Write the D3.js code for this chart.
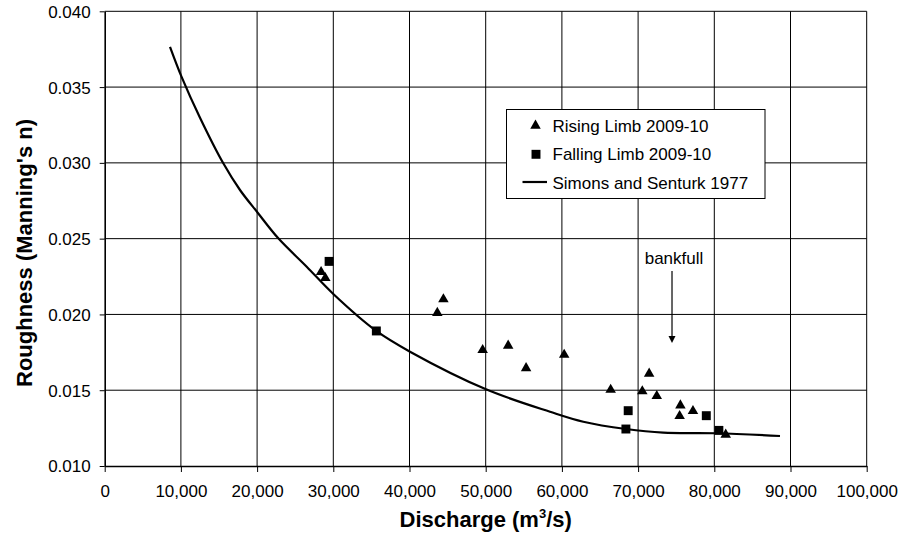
<!DOCTYPE html>
<html>
<head>
<meta charset="utf-8">
<script src="https://cdn.jsdelivr.net/npm/d3@7"></script>
<style>
  html, body { margin: 0; padding: 0; background: #fff; }
  svg { display: block; font-family: "Liberation Sans", Arial, sans-serif; }
</style>
</head>
<body>
<svg id="chart" width="899" height="539"></svg>
<script>
// ---- Data ----
const risingQ = [28400, 28950, 43650, 44450, 49600, 52950, 55300, 60300, 66400, 70550, 71450, 72450, 75550, 75450, 77200, 81500];
const risingN = [0.0228, 0.0224, 0.0201, 0.0210, 0.01765, 0.01794, 0.01646, 0.01734, 0.01503, 0.01493, 0.01609, 0.01462, 0.0140, 0.0133, 0.01363, 0.01207];

const fallingQ = [29450, 35650, 68700, 68400, 78950, 80600];
const fallingN = [0.0235, 0.01891, 0.01365, 0.01244, 0.01332, 0.01235];

const curveQ = [8570, 10105, 12507, 15564, 17756, 20079, 22782, 26509, 30000, 35643, 40066, 50039, 58438, 62808, 68412, 73307, 80315, 88622];
const curveN = [0.03766, 0.03566, 0.03298, 0.02997, 0.02821, 0.02671, 0.02502, 0.02315, 0.02135, 0.01891, 0.01754, 0.01506, 0.01358, 0.01292, 0.01244, 0.01220, 0.01216, 0.01198];

const xTicks = [0, 10000, 20000, 30000, 40000, 50000, 60000, 70000, 80000, 90000, 100000];
const yTicks = [0.010, 0.015, 0.020, 0.025, 0.030, 0.035, 0.040];

const legendLabels = ["Rising Limb 2009-10", "Falling Limb 2009-10", "Simons and Senturk 1977"];
const annotationText = "bankfull";
const annotationQ = 74450;
const annotationTextN = 0.02332;
const annotationArrowN = [0.02286, 0.01811];

const xTitle = "Discharge (m";
const yTitle = "Roughness (Manning's n)";

// ---- Layout ----
const svg = d3.select("#chart");
const x = d3.scaleLinear().domain([0, 100000]).range([104.7, 866.7]);
const y = d3.scaleLinear().domain([0.010, 0.040]).range([466, 11.3]);

// Gridlines
const grid = svg.append("g");
grid.selectAll("line.h").data(yTicks.slice(1)).join("line")
  .attr("x1", x(0)).attr("x2", x(100000))
  .attr("y1", d => y(d)).attr("y2", d => y(d))
  .attr("stroke", "#000").attr("stroke-width", 1);
grid.selectAll("line.v").data(xTicks.slice(1)).join("line")
  .attr("x1", d => x(d)).attr("x2", d => x(d))
  .attr("y1", y(0.010)).attr("y2", y(0.040))
  .attr("stroke", "#000").attr("stroke-width", 1);

// Axes
const fmtX = d3.format(",");
const fmtY = d3.format(".3f");
const xAxis = d3.axisBottom(x).tickValues(xTicks).tickFormat(fmtX).tickSize(6).tickSizeOuter(0);
const yAxis = d3.axisLeft(y).tickValues(yTicks).tickFormat(fmtY).tickSize(5).tickSizeOuter(0);

const gx = svg.append("g").attr("transform", `translate(0,${y(0.010)})`).call(xAxis);
const gy = svg.append("g").attr("transform", `translate(${x(0)},0)`).call(yAxis);
[gx, gy].forEach(g => {
  g.select(".domain").attr("stroke", "#000").attr("stroke-width", 1.6);
  g.selectAll(".tick line").attr("stroke", "#000");
  g.selectAll(".tick text").attr("fill", "#000")
    .style("font-family", '"Liberation Sans", Arial, sans-serif')
    .style("font-size", "17px");
});
gx.selectAll(".tick text").attr("dy", null).attr("y", 31);
gy.selectAll(".tick text").attr("x", -14).attr("dy", "0.35em");

// Axis titles
const xt = svg.append("text")
  .attr("x", (x(0) + x(100000)) / 2).attr("y", 527)
  .attr("text-anchor", "middle")
  .style("font-size", "22px").style("font-weight", "bold").attr("fill", "#000");
xt.append("tspan").text(xTitle);
xt.append("tspan").text("3").attr("dy", -9).style("font-size", "13px");
xt.append("tspan").text("/s)").attr("dy", 9);

svg.append("text")
  .attr("transform", `translate(32,253) rotate(-90)`)
  .attr("text-anchor", "middle")
  .style("font-size", "22px").style("font-weight", "bold").attr("fill", "#000")
  .text(yTitle);

// Curve
const curvePts = curveQ.map((q, i) => [q, curveN[i]]);
svg.append("path")
  .attr("d", d3.line().x(d => x(d[0])).y(d => y(d[1])).curve(d3.curveCatmullRom.alpha(0.5))(curvePts))
  .attr("fill", "none").attr("stroke", "#000").attr("stroke-width", 2.2);

// Markers
const tri = d3.symbol().type(d3.symbolTriangle).size(48);
const sq = d3.symbol().type(d3.symbolSquare).size(80);
svg.append("g").selectAll("path").data(risingQ.map((q, i) => [q, risingN[i]])).join("path")
  .attr("d", tri)
  .attr("transform", d => `translate(${x(d[0])},${y(d[1])})`)
  .attr("fill", "#000");
svg.append("g").selectAll("path").data(fallingQ.map((q, i) => [q, fallingN[i]])).join("path")
  .attr("d", sq)
  .attr("transform", d => `translate(${x(d[0])},${y(d[1])})`)
  .attr("fill", "#000");

// Annotation
svg.append("text")
  .attr("x", x(annotationQ) + 2).attr("y", y(annotationTextN))
  .attr("text-anchor", "middle")
  .style("font-size", "17px").attr("fill", "#000")
  .text(annotationText);
const ax = x(annotationQ), ay1 = y(annotationArrowN[0]), ay2 = y(annotationArrowN[1]);
svg.append("line")
  .attr("x1", ax).attr("x2", ax).attr("y1", ay1).attr("y2", ay2 - 5)
  .attr("stroke", "#000").attr("stroke-width", 1.2);
svg.append("path")
  .attr("d", `M${ax - 3.5},${ay2 - 7} L${ax + 3.5},${ay2 - 7} L${ax},${ay2} Z`)
  .attr("fill", "#000");

// Legend
const lg = svg.append("g");
lg.append("rect").attr("x", 506.5).attr("y", 109.5).attr("width", 258.5).attr("height", 89)
  .attr("fill", "#fff").attr("stroke", "#000").attr("stroke-width", 1);
const rowY = [131.7, 160.3, 189];
lg.selectAll("text").data(legendLabels).join("text")
  .attr("x", 552.5).attr("y", (d, i) => rowY[i])
  .style("font-size", "17px").attr("fill", "#000")
  .text(d => d);
lg.append("path").attr("d", tri).attr("transform", `translate(535.5,${rowY[0] - 6})`).attr("fill", "#000");
lg.append("path").attr("d", sq).attr("transform", `translate(536,${rowY[1] - 6})`).attr("fill", "#000");
lg.append("line").attr("x1", 522.5).attr("x2", 547).attr("y1", rowY[2] - 7).attr("y2", rowY[2] - 7)
  .attr("stroke", "#000").attr("stroke-width", 2.2);
</script>
</body>
</html>
